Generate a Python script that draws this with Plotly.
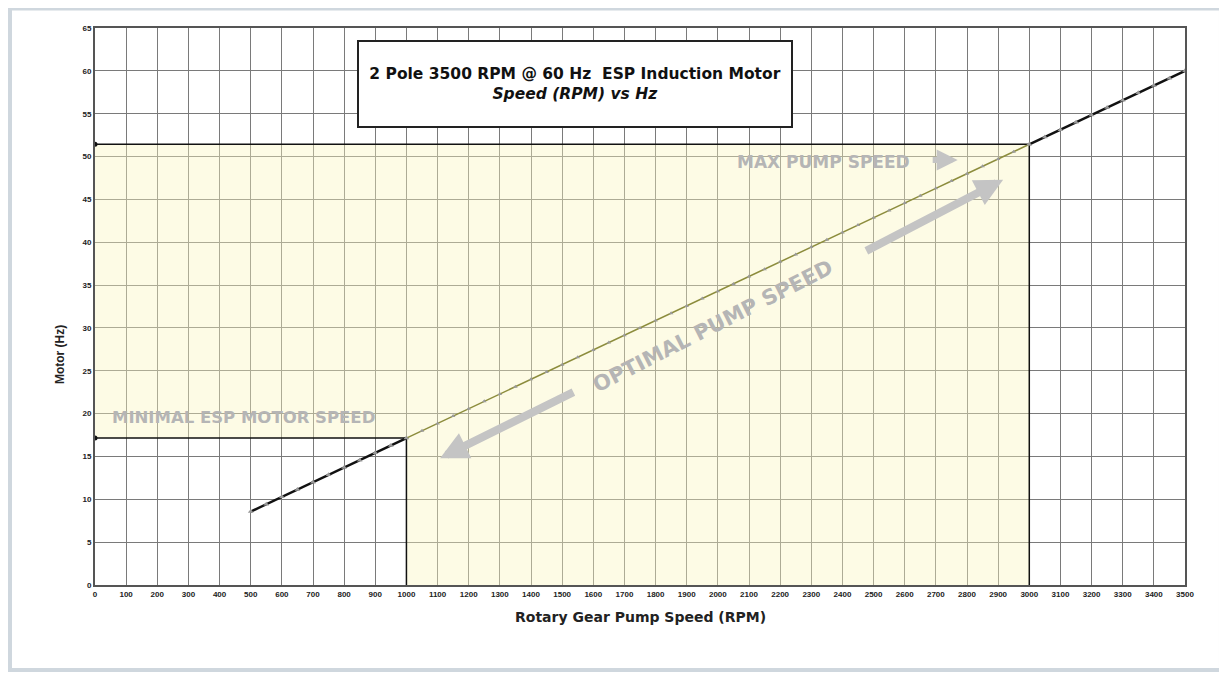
import plotly.graph_objects as go

# ---- data ----
rpm = [500, 550, 600, 650, 700, 750, 800, 850, 900, 950,
       1000, 1050, 1100, 1150, 1200, 1250, 1300, 1350, 1400, 1450,
       1500, 1550, 1600, 1650, 1700, 1750, 1800, 1850, 1900, 1950,
       2000, 2050, 2100, 2150, 2200, 2250, 2300, 2350, 2400, 2450,
       2500, 2550, 2600, 2650, 2700, 2750, 2800, 2850, 2900, 2950,
       3000, 3050, 3100, 3150, 3200, 3250, 3300, 3350, 3400, 3450, 3500]
hz = [8.57, 9.43, 10.29, 11.14, 12.00, 12.86, 13.71, 14.57, 15.43, 16.29,
      17.14, 18.00, 18.86, 19.71, 20.57, 21.43, 22.29, 23.14, 24.00, 24.86,
      25.71, 26.57, 27.43, 28.29, 29.14, 30.00, 30.86, 31.71, 32.57, 33.43,
      34.29, 35.14, 36.00, 36.86, 37.71, 38.57, 39.43, 40.29, 41.14, 42.00,
      42.86, 43.71, 44.57, 45.43, 46.29, 47.14, 48.00, 48.86, 49.71, 50.57,
      51.43, 52.29, 53.14, 54.00, 54.86, 55.71, 56.57, 57.43, 58.29, 59.14, 60.00]

min_rpm, min_hz = 1000, 17.14
max_rpm, max_hz = 3000, 51.43

x_ticks = list(range(0, 3501, 100))
y_ticks = list(range(0, 66, 5))

title_text = ("<b>2 Pole 3500 RPM @ 60 Hz  ESP Induction Motor</b><br>"
              "<b><i>Speed (RPM) vs Hz</i></b>")
x_title = "Rotary Gear Pump Speed (RPM)"
y_title = "Motor (Hz)"

fig = go.Figure()

# optimal zone fill
fig.add_trace(go.Scatter(
    x=[0, 0, max_rpm, max_rpm, min_rpm, min_rpm, 0],
    y=[min_hz, max_hz, max_hz, 0, 0, min_hz, min_hz],
    fill="toself", fillcolor="rgba(250,244,190,0.40)",
    line=dict(width=0), mode="lines", hoverinfo="skip", showlegend=False))

# reference lines
fig.add_trace(go.Scatter(x=[0, max_rpm, max_rpm], y=[max_hz, max_hz, 0],
                         mode="lines", line=dict(color="#111111", width=1.5),
                         showlegend=False))
fig.add_trace(go.Scatter(x=[0, min_rpm, min_rpm], y=[min_hz, min_hz, 0],
                         mode="lines", line=dict(color="#111111", width=1.5),
                         showlegend=False))
fig.add_trace(go.Scatter(x=[0, 0], y=[min_hz, max_hz], mode="markers",
                         marker=dict(color="#111111", size=5), showlegend=False))

# speed line segments
i1 = rpm.index(min_rpm)
i2 = rpm.index(max_rpm)
fig.add_trace(go.Scatter(x=rpm[:i1 + 1], y=hz[:i1 + 1], mode="lines+markers",
                         line=dict(color="#111111", width=2.5),
                         marker=dict(symbol="triangle-up", size=5, color="#999999"),
                         showlegend=False))
fig.add_trace(go.Scatter(x=rpm[i1:i2 + 1], y=hz[i1:i2 + 1], mode="lines+markers",
                         line=dict(color="#8c8c3c", width=1.5),
                         marker=dict(symbol="triangle-up", size=4, color="#9a9a9a"),
                         showlegend=False))
fig.add_trace(go.Scatter(x=rpm[i2:], y=hz[i2:], mode="lines+markers",
                         line=dict(color="#111111", width=2.5),
                         marker=dict(symbol="triangle-up", size=5, color="#999999"),
                         showlegend=False))

grey = "#b5b5b5"
ann = [
    dict(x=0.4404, y=0.90, xref="paper", yref="paper", xanchor="center", yanchor="middle",
         text=title_text, showarrow=False,
         font=dict(family="DejaVu Sans", size=15.5, color="#111"),
         bgcolor="white", bordercolor="#222", borderwidth=2, width=430, height=82),
    dict(x=48, y=19.6, xref="x", yref="y", xanchor="left", text="<b>MINIMAL ESP MOTOR SPEED</b>",
         showarrow=False, font=dict(family="DejaVu Sans", size=16.5, color=grey)),
    dict(x=2055, y=49.4, xref="x", yref="y", xanchor="left", text="<b>MAX PUMP SPEED</b>",
         showarrow=False, font=dict(family="DejaVu Sans", size=17, color=grey)),
    dict(x=1985, y=30.2, xref="x", yref="y", text="<b>OPTIMAL PUMP SPEED</b>",
         textangle=-27, showarrow=False,
         font=dict(family="DejaVu Sans", size=21, color=grey)),
    dict(x=1108, y=14.8, ax=1541, ay=22.6, xref="x", yref="y", axref="x", ayref="y",
         text="", showarrow=True, arrowhead=2, arrowsize=0.7, arrowwidth=8, arrowcolor="#c4c4c4"),
    dict(x=2916, y=47.3, ax=2472, ay=38.9, xref="x", yref="y", axref="x", ayref="y",
         text="", showarrow=True, arrowhead=2, arrowsize=0.7, arrowwidth=8, arrowcolor="#c4c4c4"),
    dict(x=2770, y=49.6, ax=2685, ay=49.6, xref="x", yref="y", axref="x", ayref="y",
         text="", showarrow=True, arrowhead=2, arrowsize=0.7, arrowwidth=6, arrowcolor="#c4c4c4"),
    dict(x=0.5, y=-0.0575, xref="paper", yref="paper", yanchor="middle", text="<b>" + x_title + "</b>",
         showarrow=False, font=dict(family="DejaVu Sans", size=14, color="#222")),
    dict(x=-0.032, y=0.413, xref="paper", yref="paper", xanchor="center", yanchor="middle",
         text="<b>" + y_title + "</b>",
         textangle=-90, showarrow=False, font=dict(family="Liberation Sans", size=12, color="#222")),
]

axis_common = dict(showgrid=True, gridcolor="#7a7a7a", gridwidth=1, zeroline=False,
                   showline=True, linecolor="#555555", linewidth=2, mirror=True,
                   ticks="", tickfont=dict(family="Liberation Sans", size=8, color="#222", weight="bold"))

fig.update_layout(
    width=1219, height=666,
    margin=dict(l=87, r=42, t=20, b=89),
    paper_bgcolor="white", plot_bgcolor="white",
    showlegend=False,
    xaxis=dict(range=[0, 3500], tickvals=x_ticks, **axis_common),
    yaxis=dict(range=[0, 65], tickvals=y_ticks, **axis_common),
    annotations=ann,
    shapes=[dict(type="rect", xref="paper", yref="paper",
                 x0=-0.0780, x1=1.0330, y0=-0.1525, y1=1.0350,
                 line=dict(color="#cfd7de", width=4), layer="below")],
)

fig.write_html("out.html")
